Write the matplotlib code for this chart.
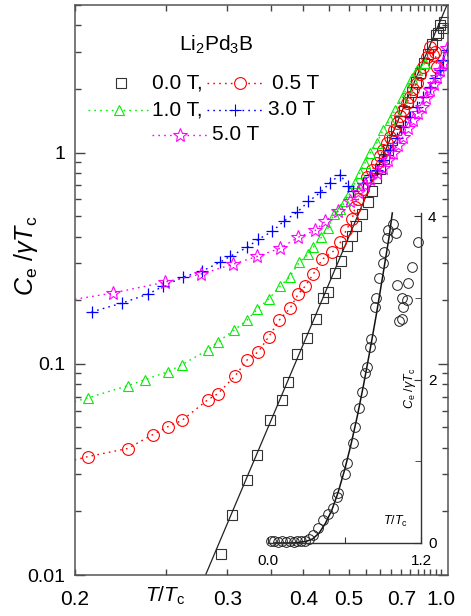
import numpy as np
import matplotlib
matplotlib.use('Agg')
import matplotlib.pyplot as plt
from matplotlib.ticker import NullFormatter, LogLocator

plt.rcParams['font.family'] = ['Liberation Sans', 'DejaVu Sans']
plt.rcParams['mathtext.fontset'] = 'custom'
plt.rcParams['mathtext.rm'] = 'Liberation Sans'
plt.rcParams['mathtext.it'] = 'Liberation Sans:italic'

# ---------- data (T/Tc, Ce/gamma Tc) ----------
t00 = [0.294, 0.305, 0.321, 0.333, 0.349, 0.365, 0.375, 0.389, 0.407, 0.424,
       0.438, 0.448, 0.464, 0.479, 0.495, 0.508, 0.520, 0.538, 0.558, 0.572,
       0.587, 0.602, 0.618, 0.635, 0.654, 0.673, 0.693, 0.715, 0.738, 0.763,
       0.789, 0.817, 0.847, 0.880, 0.915, 0.953, 0.974, 0.995, 1.028, 1.039]
c00 = [0.0126, 0.0192, 0.0281, 0.0372, 0.0544, 0.0676, 0.0822, 0.1115, 0.1327, 0.163,
       0.205, 0.219, 0.269, 0.306, 0.360, 0.402, 0.448, 0.510, 0.581, 0.655,
       0.762, 0.840, 0.937, 1.033, 1.151, 1.284, 1.416, 1.578, 1.740, 1.940,
       2.163, 2.385, 2.658, 2.931, 3.268, 3.604, 3.68, 4.015, 3.88, 4.15]

t05 = [0.195, 0.206, 0.226, 0.241, 0.251, 0.261, 0.282, 0.291, 0.308, 0.321,
       0.334, 0.347, 0.362, 0.378, 0.391, 0.403, 0.418, 0.436, 0.458, 0.477,
       0.492, 0.508, 0.517, 0.526, 0.541, 0.555, 0.572, 0.590, 0.602, 0.614,
       0.629, 0.644, 0.661, 0.678, 0.694, 0.709, 0.729, 0.750, 0.769, 0.792,
       0.817, 0.840, 0.871, 0.897, 0.924, 0.943, 0.963]
c05 = [0.034, 0.0364, 0.0397, 0.0462, 0.0504, 0.0539, 0.0676, 0.0722, 0.0878, 0.1045,
       0.114, 0.134, 0.1614, 0.1837, 0.2138, 0.2333, 0.266, 0.3128, 0.3375, 0.3759,
       0.4285, 0.4831, 0.5507, 0.6002, 0.669, 0.7705, 0.83, 0.8977, 0.96, 1.033,
       1.11, 1.19, 1.28, 1.385, 1.49, 1.595, 1.71, 1.837, 2.0, 2.138,
       2.35, 2.546, 2.85, 3.163, 2.9, 3.0, 2.546]

t10 = [0.195, 0.206, 0.226, 0.236, 0.251, 0.261, 0.282, 0.291, 0.307, 0.321,
       0.333, 0.347, 0.363, 0.377, 0.393, 0.409, 0.418, 0.434, 0.448, 0.462,
       0.477, 0.489, 0.503, 0.517, 0.532, 0.548, 0.565, 0.590, 0.614, 0.644,
       0.668, 0.704, 0.732, 0.763, 0.796, 0.855]
c10 = [0.064, 0.0691, 0.0787, 0.0841, 0.0917, 0.0989, 0.1164, 0.127, 0.1446, 0.1614,
       0.1817, 0.2026, 0.2333, 0.2573, 0.3028, 0.3302, 0.3564, 0.3972, 0.4382, 0.5103,
       0.5383, 0.5871, 0.6477, 0.7218, 0.8049, 0.8977, 1.0, 1.115, 1.283, 1.431,
       1.595, 1.817, 2.027, 2.258, 2.464, 2.658]

t30 = [0.2075, 0.223, 0.238, 0.248, 0.262, 0.277, 0.293, 0.303, 0.321, 0.334,
       0.352, 0.368, 0.389, 0.409, 0.432, 0.453, 0.477, 0.497, 0.511, 0.541,
       0.565, 0.590, 0.614, 0.644, 0.678, 0.709, 0.750, 0.796, 0.840, 0.897,
       0.943, 0.995, 1.028, 1.076]
c30 = [0.176, 0.194, 0.2138, 0.2333, 0.2573, 0.2747, 0.3028, 0.3231, 0.3564, 0.3887,
       0.4238, 0.4729, 0.5212, 0.5871, 0.6477, 0.7218, 0.7875, 0.6916, 0.6546, 0.7218,
       0.7875, 0.8318, 0.9268, 1.033, 1.177, 1.326, 1.478, 1.648, 1.837, 2.047,
       2.258, 2.464, 2.746, 3.061]

t50 = [0.195, 0.218, 0.249, 0.276, 0.306, 0.333, 0.363, 0.391, 0.422, 0.442,
       0.472, 0.503, 0.526, 0.548, 0.565, 0.590, 0.614, 0.636, 0.658, 0.683,
       0.709, 0.738, 0.769, 0.800, 0.832, 0.864, 0.897, 0.930, 0.963, 0.995,
       1.028, 1.076]
c50 = [0.198, 0.2163, 0.2436, 0.266, 0.2963, 0.3231, 0.3525, 0.3972, 0.4285, 0.4729,
       0.5271, 0.5871, 0.6477, 0.7063, 0.7461, 0.80, 0.85, 0.92, 1.0, 1.09,
       1.19, 1.31, 1.431, 1.54, 1.648, 1.81, 1.982, 2.12, 2.282, 2.45,
       2.658, 3.127]

# fit line of the 0 T data (straight in this plot)
fit_t = [0.280, 1.076]
fit_c = [0.01, 5.0]

# inset (linear axes)
ti = [0.02, 0.05, 0.08, 0.11, 0.14, 0.17, 0.20, 0.23, 0.26, 0.29,
      0.32, 0.35, 0.39, 0.43, 0.47, 0.51, 0.54, 0.55, 0.60, 0.62,
      0.67, 0.68, 0.71, 0.74, 0.76, 0.78, 0.80, 0.81, 0.84, 0.85,
      0.87, 0.90, 0.91, 0.93, 0.94, 0.98, 1.00, 1.01, 1.03, 1.05,
      1.05, 1.06, 1.09, 1.10, 1.13, 1.18]
ci = [0.02, 0.02, 0.01, 0.02, 0.01, 0.02, 0.01, 0.02, 0.02, 0.03,
      0.05, 0.10, 0.18, 0.28, 0.36, 0.43, 0.56, 0.61, 0.85, 0.98,
      1.22, 1.42, 1.65, 1.85, 2.08, 2.16, 2.40, 2.50, 2.89, 3.00,
      3.24, 3.43, 3.56, 3.73, 3.83, 3.91, 3.79, 3.16, 2.72, 2.74,
      3.00, 2.89, 2.97, 3.18, 3.38, 3.69]
fit_ti = [0.05, 0.20, 0.30, 0.35, 0.40, 0.45, 0.50, 0.55, 0.60, 0.65,
          0.70, 0.75, 0.80, 0.85, 0.90, 0.95, 0.975]
fit_ci = [0.0, 0.0, 0.02, 0.05, 0.12, 0.24, 0.40, 0.62, 0.89, 1.20,
          1.55, 1.94, 2.36, 2.80, 3.27, 3.75, 4.04]

x_ticks = [0.2, 0.3, 0.4, 0.5, 0.7, 1.0]
x_labels = ['0.2', '0.3', '0.4', '0.5', '0.7', '1.0']
y_ticks = [0.01, 0.1, 1]
y_labels = ['0.01', '0.1', '1']

DOT = (0, (1.2, 3.0))  # sparse dotted line


def fwd(x):
    x = np.asarray(x, dtype=float)
    with np.errstate(divide='ignore', invalid='ignore'):
        return -1.0 / x


def inv(y):
    y = np.asarray(y, dtype=float)
    with np.errstate(divide='ignore', invalid='ignore'):
        return -1.0 / y


def main():
    fig = plt.figure(figsize=(4.71, 6.16), dpi=100)
    ax = fig.add_axes([75 / 471, 41 / 616, 373 / 471, 570 / 616])
    ax.set_xscale('function', functions=(fwd, inv))
    ax.set_yscale('log')

    ax.plot(t00, c00, ls='none', marker='s', ms=7, mfc='none', mec='#333333', mew=0.8)
    ax.plot(fit_t, fit_c, '-', color='#222222', lw=0.9)
    ax.plot(t05, c05, ls=DOT, color='#ff0000', lw=1, marker='o', ms=8.5, mfc='none', mew=0.8)
    ax.plot(t10, c10, ls=DOT, color='#00ee00', lw=1, marker='^', ms=7.5, mfc='none', mew=0.8)
    ax.plot(t30, c30, ls=DOT, color='#0000ff', lw=1, marker='+', ms=9, mew=0.9)
    ax.plot(t50, c50, ls=DOT, color='#ff00ff', lw=1, marker='*', ms=10.5, mfc='none', mew=0.8)

    ax.set_xlim(0.2, 1.089)
    ax.set_ylim(0.01, 5.0)
    ax.set_xticks(x_ticks, labels=x_labels)
    ax.set_xticks(np.arange(0.25, 1.001, 0.05), minor=True)
    ax.xaxis.set_minor_formatter(NullFormatter())
    ax.set_yticks(y_ticks, labels=y_labels)
    ax.yaxis.set_minor_locator(LogLocator(base=10, subs=np.arange(2, 10)))
    ax.yaxis.set_minor_formatter(NullFormatter())

    ax.tick_params(which='both', direction='in', top=True, right=True,
                   color='#444444', width=1)
    ax.tick_params(axis='y', which='major', length=7, pad=7, labelsize=14)
    ax.tick_params(axis='y', which='minor', length=4)
    ax.tick_params(axis='x', which='both', length=4, pad=11, labelsize=15)
    for s in ax.spines.values():
        s.set_color('#555555')
        s.set_linewidth(1.1)

    ax.text(0.241, -0.037, r'$T/T_{\rm c}$', transform=ax.transAxes,
            ha='center', va='center', fontsize=15)
    fig.text(0.056, 0.585, r'$C_{\rm e}\ /\gamma T_{\rm c}$', rotation=90,
             ha='center', va='center', fontsize=18)

    # ---------- legend drawn by hand ----------
    tr = ax.transAxes
    ax.text(0.378, 0.930, r'Li$_2$Pd$_3$B', transform=tr, ha='center', va='center', fontsize=15)
    kw = dict(transform=tr, clip_on=False, mew=0.8, lw=1)
    ax.plot([0.123], [0.863], ls='none', marker='s', ms=7, mfc='none', mec='#333333', **kw)
    ax.text(0.206, 0.863, '0.0 T,', transform=tr, va='center', fontsize=15)
    ax.plot([0.354, 0.504], [0.863, 0.863], ls=DOT, color='#ff0000', **kw)
    ax.plot([0.442], [0.863], marker='o', ms=8.5, mfc='white', mec='#ff0000', **kw)
    ax.text(0.528, 0.863, '0.5 T', transform=tr, va='center', fontsize=15)

    ax.plot([0.035, 0.201], [0.816, 0.816], ls=DOT, color='#00ee00', **kw)
    ax.plot([0.118], [0.816], marker='^', ms=7.5, mfc='white', mec='#00ee00', **kw)
    ax.text(0.206, 0.816, '1.0 T,', transform=tr, va='center', fontsize=15)
    ax.plot([0.354, 0.504], [0.816, 0.816], ls=DOT, color='#0000ff', **kw)
    ax.plot([0.429], [0.816], marker='+', ms=9, color='#0000ff', **kw)
    ax.text(0.517, 0.816, '3.0 T', transform=tr, va='center', fontsize=15)

    ax.plot([0.206, 0.354], [0.772, 0.772], ls=DOT, color='#ff00ff', **kw)
    ax.plot([0.2815], [0.772], marker='*', ms=10.5, mfc='white', mec='#ff00ff', **kw)
    ax.text(0.367, 0.772, '5.0 T', transform=tr, va='center', fontsize=15)

    # ---------- inset ----------
    axi = fig.add_axes([268 / 471, 73 / 616, 153 / 471, 330 / 616])
    axi.patch.set_alpha(0)
    axi.plot(fit_ti, fit_ci, '-', color='#111111', lw=1.1, clip_on=False)
    axi.plot(ti, ci, ls='none', marker='o', ms=7, mfc='none', mec='#222222', mew=0.7,
             clip_on=False)
    axi.set_xlim(0, 1.2)
    axi.set_ylim(0, 4.04)
    axi.spines['left'].set_visible(False)
    axi.spines['top'].set_visible(False)
    for s in ('bottom', 'right'):
        axi.spines[s].set_color('#333333')
        axi.spines[s].set_linewidth(1)
    axi.yaxis.tick_right()
    axi.set_xticks([0, 0.6, 1.2], labels=['0.0', '', '1.2'])
    axi.set_yticks([0, 2, 4], labels=['0', '2', '4'])
    axi.set_yticks([1, 3], minor=True)
    axi.tick_params(which='both', direction='in', color='#333333', labelsize=11)
    axi.tick_params(axis='x', length=4, pad=8)
    axi.tick_params(axis='y', which='major', length=5, pad=5)
    axi.tick_params(axis='y', which='minor', length=4)
    axi.text(0.928, 0.47, r'$C_{\rm e}\ /\gamma T_{\rm c}$', transform=axi.transAxes,
             rotation=90, ha='center', va='center', fontsize=9)
    axi.text(0.83, 0.064, r'$T/T_{\rm c}$', transform=axi.transAxes,
             ha='center', va='center', fontsize=9)

    fig.savefig('out.png', dpi=100)
    plt.close(fig)


if __name__ == '__main__':
    main()
